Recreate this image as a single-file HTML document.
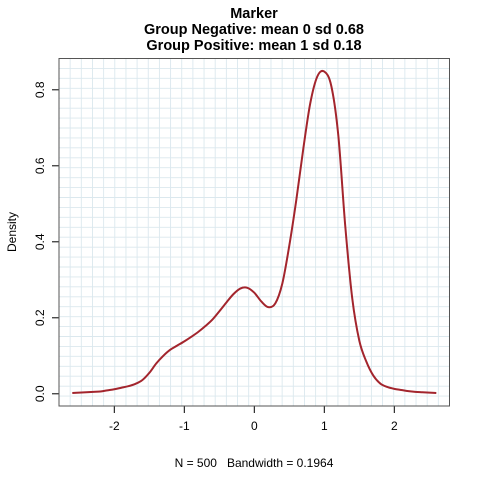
<!DOCTYPE html>
<html><head><meta charset="utf-8"><style>
html,body{margin:0;padding:0;background:#fff;}
svg{display:block;font-family:"Liberation Sans",sans-serif;}
</style></head><body>
<svg id="chart" width="480" height="480" viewBox="0 0 480 480">
<g id="grid"></g>
<g id="ticks"></g>
<path id="curve" fill="none" stroke="#a3252d" stroke-width="2"/>
<rect x="59" y="58.5" width="390.5" height="347.5" fill="none" stroke="#555" stroke-width="1"/>
<g font-weight="bold" font-size="14.5" text-anchor="middle">
<text x="254" y="18">Marker</text>
<text x="254" y="34">Group Negative: mean 0 sd 0.68</text>
<text x="254" y="50">Group Positive: mean 1 sd 0.18</text>
</g>
<text x="254" y="467" font-size="12" text-anchor="middle" xml:space="preserve" style="white-space:pre">N = 500   Bandwidth = 0.1964</text>
<text transform="translate(16,232) rotate(-90)" font-size="12" text-anchor="middle">Density</text>
</svg>
<script>
const xs = [-2.6,-2.5,-2.4,-2.3,-2.2,-2.1,-2.0,-1.9,-1.8,-1.7,-1.6,-1.5,-1.4,-1.3,-1.2,-1.1,-1.0,-0.9,-0.8,-0.7,-0.6,-0.5,-0.4,-0.3,-0.2,-0.1,0.0,0.1,0.2,0.3,0.4,0.5,0.6,0.7,0.8,0.9,1.0,1.1,1.2,1.3,1.4,1.5,1.6,1.7,1.8,1.9,2.0,2.1,2.2,2.3,2.4,2.5,2.6];
const ys = [0.002,0.003,0.004,0.005,0.006,0.009,0.012,0.016,0.02,0.026,0.036,0.055,0.08,0.1,0.116,0.127,0.138,0.15,0.163,0.178,0.195,0.217,0.24,0.262,0.277,0.279,0.266,0.243,0.228,0.238,0.29,0.39,0.51,0.645,0.765,0.835,0.848,0.81,0.68,0.44,0.25,0.14,0.085,0.048,0.027,0.018,0.013,0.01,0.007,0.005,0.004,0.003,0.002];
const xTicks = [-2,-1,0,1,2];
const yTicks = [0,0.2,0.4,0.6,0.8];
const yTickLabels = ["0.0","0.2","0.4","0.6","0.8"];
const X = v => 254.3 + v*70;
const Y = v => 393.8 - v*380;
const NS = "http://www.w3.org/2000/svg";
function mk(tag, attrs, parent){const e=document.createElementNS(NS,tag);for(const k in attrs)e.setAttribute(k,attrs[k]);parent.appendChild(e);return e;}
const grid=document.getElementById('grid');
for(let i=1;i<35;i++){
  const gx=59+i*390.5/35;
  const l=mk('line',{x1:gx,x2:gx,y1:58.5,y2:406,stroke:'#dbe8ee','stroke-width':0.9},grid);
  
  
  const gy=58.5+i*347.5/35;
  const h=mk('line',{x1:59,x2:449.5,y1:gy,y2:gy,stroke:'#dbe8ee','stroke-width':0.9},grid);
  
  
}
const tk=document.getElementById('ticks');
xTicks.forEach(v=>{
  const t=mk('line',{x1:X(v),x2:X(v),y1:406,y2:413,stroke:'#000'},tk);
  
  
  const s=mk('text',{x:X(v),y:430,'font-size':12,'text-anchor':'middle'},tk);
  s.textContent=String(v);
  
  
});
yTicks.forEach((v,i)=>{
  const t=mk('line',{x1:52,x2:59,y1:Y(v),y2:Y(v),stroke:'#000'},tk);
  
  
  const s=mk('text',{transform:`translate(44,${Y(v)}) rotate(-90)`,'font-size':12,'text-anchor':'middle'},tk);
  s.textContent=yTickLabels[i];
  
  
});
const P=xs.map((x,i)=>[X(x),Y(ys[i])]);
let d=`M${P[0][0]},${P[0][1]}`;
for(let i=0;i<P.length-1;i++){
  const p0=P[Math.max(0,i-1)],p1=P[i],p2=P[i+1],p3=P[Math.min(P.length-1,i+2)];
  const c1=[p1[0]+(p2[0]-p0[0])/6,p1[1]+(p2[1]-p0[1])/6];
  const c2=[p2[0]-(p3[0]-p1[0])/6,p2[1]-(p3[1]-p1[1])/6];
  d+=` C${c1[0]},${c1[1]} ${c2[0]},${c2[1]} ${p2[0]},${p2[1]}`;
}
document.getElementById('curve').setAttribute('d',d);
</script>
</body></html>
